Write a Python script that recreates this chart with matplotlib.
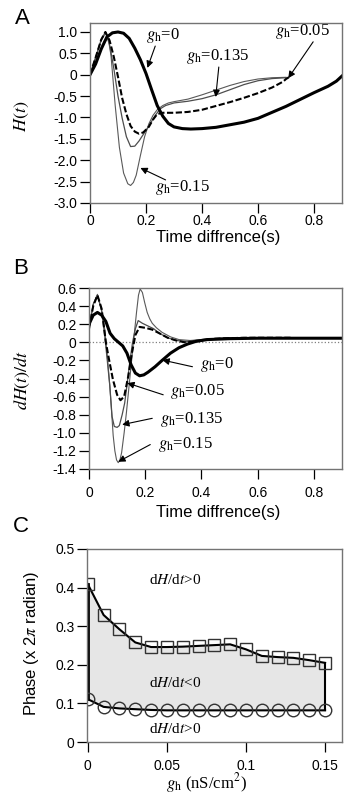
import numpy as np
import matplotlib
matplotlib.use("Agg")
import matplotlib.pyplot as plt
from matplotlib.ticker import FixedLocator, FixedFormatter

plt.rcParams['font.family'] = ['Liberation Sans', 'DejaVu Sans']
plt.rcParams['mathtext.fontset'] = 'stix'
plt.rcParams['axes.unicode_minus'] = False

# panel A: H(t) for each gh
tA_0 = [0, 0.02, 0.04, 0.06, 0.08, 0.10, 0.12, 0.14, 0.16, 0.18, 0.20, 0.22, 0.24, 0.26, 0.28, 0.30,
        0.33, 0.36, 0.40, 0.45, 0.50, 0.55, 0.60, 0.65, 0.70, 0.75, 0.80, 0.85, 0.88, 0.90]
hA_0 = [0, 0.25, 0.6, 0.88, 0.98, 1.0, 0.97, 0.85, 0.62, 0.35, 0.03, -0.35, -0.72, -0.97, -1.14, -1.22,
        -1.26, -1.27, -1.26, -1.23, -1.17, -1.11, -1.02, -0.88, -0.74, -0.58, -0.42, -0.27, -0.15, -0.03]

tA_05 = [0, 0.02, 0.04, 0.055, 0.07, 0.085, 0.10, 0.115, 0.13, 0.145, 0.16, 0.175, 0.19, 0.21, 0.225,
         0.24, 0.26, 0.30, 0.35, 0.40, 0.45, 0.50, 0.55, 0.60, 0.65, 0.69, 0.70, 0.71]
hA_05 = [0, 0.4, 0.82, 1.0, 0.8, 0.42, -0.05, -0.55, -0.92, -1.2, -1.33, -1.38, -1.35, -1.22, -1.05,
         -0.92, -0.89, -0.89, -0.87, -0.82, -0.73, -0.64, -0.54, -0.43, -0.3, -0.16, -0.1, -0.06]

tA_135 = [0, 0.02, 0.04, 0.055, 0.07, 0.085, 0.10, 0.115, 0.13, 0.145, 0.16, 0.175, 0.19, 0.21, 0.23,
          0.25, 0.27, 0.30, 0.35, 0.40, 0.45, 0.50, 0.55, 0.60, 0.65, 0.70]
hA_135 = [0, 0.4, 0.82, 1.0, 0.7, 0.15, -0.5, -1.02, -1.45, -1.68, -1.67, -1.55, -1.4, -1.2, -0.98,
          -0.8, -0.72, -0.66, -0.62, -0.56, -0.47, -0.35, -0.23, -0.14, -0.09, -0.07]

tA_15 = [0, 0.02, 0.04, 0.055, 0.065, 0.075, 0.09, 0.105, 0.12, 0.135, 0.145, 0.155, 0.165, 0.18, 0.195,
         0.21, 0.225, 0.24, 0.26, 0.28, 0.30, 0.35, 0.40, 0.45, 0.50, 0.55, 0.60, 0.65, 0.70]
hA_15 = [0, 0.4, 0.8, 0.97, 0.85, 0.45, -0.72, -1.7, -2.3, -2.55, -2.59, -2.52, -2.35, -1.89, -1.45,
         -1.15, -0.95, -0.82, -0.72, -0.66, -0.63, -0.57, -0.47, -0.36, -0.25, -0.16, -0.1, -0.07, -0.06]

# panel B: dH/dt
tB_0 = [0, 0.015, 0.03, 0.045, 0.06, 0.075, 0.09, 0.105, 0.12, 0.135, 0.15, 0.165, 0.18, 0.195, 0.21,
        0.235, 0.26, 0.29, 0.32, 0.35, 0.38, 0.42, 0.5, 0.6, 0.7, 0.8, 0.9]
dB_0 = [0.2, 0.3, 0.33, 0.3, 0.23, 0.1, 0.04, 0.0, -0.04, -0.12, -0.25, -0.34, -0.37, -0.36, -0.33,
        -0.27, -0.2, -0.12, -0.06, -0.02, 0.01, 0.03, 0.04, 0.045, 0.045, 0.045, 0.045]

tB_05 = [0, 0.015, 0.03, 0.045, 0.06, 0.07, 0.085, 0.1, 0.112, 0.125, 0.14, 0.152, 0.165, 0.18, 0.2,
         0.225, 0.25, 0.28, 0.31, 0.34, 0.38, 0.45, 0.55, 0.65, 0.72]
dB_05 = [0.15, 0.4, 0.52, 0.37, 0.0, -0.17, -0.41, -0.58, -0.64, -0.6, -0.37, -0.13, 0.08, 0.17, 0.16,
         0.14, 0.1, 0.05, 0.02, 0.0, 0.01, 0.04, 0.05, 0.05, 0.05]

tB_135 = [0, 0.015, 0.03, 0.045, 0.056, 0.065, 0.074, 0.082, 0.09, 0.1, 0.108, 0.118, 0.127, 0.136, 0.145,
          0.155, 0.165, 0.175, 0.19, 0.21, 0.23, 0.25, 0.28, 0.31, 0.35, 0.4, 0.5, 0.6, 0.72]
dB_135 = [0.15, 0.42, 0.52, 0.35, 0.07, -0.2, -0.48, -0.82, -0.93, -0.94, -0.92, -0.8, -0.67, -0.45, -0.22,
          0.0, 0.15, 0.24, 0.21, 0.18, 0.15, 0.1, 0.05, 0.02, 0.01, 0.03, 0.05, 0.05, 0.05]

tB_15 = [0, 0.015, 0.03, 0.045, 0.056, 0.065, 0.074, 0.08, 0.086, 0.092, 0.098, 0.104, 0.11, 0.116, 0.125,
         0.133, 0.142, 0.151, 0.16, 0.169, 0.176, 0.182, 0.19, 0.198, 0.207, 0.216, 0.225, 0.24, 0.26,
         0.29, 0.32, 0.36, 0.4, 0.5, 0.6, 0.72]
dB_15 = [0.15, 0.42, 0.53, 0.35, 0.14, -0.15, -0.48, -0.75, -1.03, -1.2, -1.3, -1.33, -1.3, -1.22, -1.0,
         -0.78, -0.5, -0.22, 0.06, 0.33, 0.52, 0.59, 0.55, 0.44, 0.33, 0.26, 0.21, 0.16, 0.11,
         0.06, 0.03, 0.02, 0.03, 0.05, 0.05, 0.05]

# panel C: phase boundaries vs gh
gh = [0, 0.01, 0.02, 0.03, 0.04, 0.05, 0.06, 0.07, 0.08, 0.09, 0.10, 0.11, 0.12, 0.13, 0.14, 0.15]
phase_up = [0.409, 0.329, 0.292, 0.258, 0.246, 0.246, 0.247, 0.249, 0.251, 0.253, 0.240, 0.223,
            0.220, 0.218, 0.212, 0.205]
phase_lo = [0.111, 0.091, 0.087, 0.085, 0.083, 0.082, 0.082, 0.082, 0.082, 0.082, 0.082, 0.082,
            0.082, 0.082, 0.082, 0.082]

yA_ticks = [1.0, 0.5, 0, -0.5, -1.0, -1.5, -2.0, -2.5, -3.0]
yA_labels = ['1.0', '0.5', '0', '-0.5', '-1.0', '-1.5', '-2.0', '-2.5', '-3.0']
yB_ticks = [0.6, 0.4, 0.2, 0, -0.2, -0.4, -0.6, -0.8, -1.0, -1.2, -1.4]
yB_labels = ['0.6', '0.4', '0.2', '0', '-0.2', '-0.4', '-0.6', '-0.8', '-1.0', '-1.2', '-1.4']
t_ticks = [0, 0.2, 0.4, 0.6, 0.8]
t_labels = ['0', '0.2', '0.4', '0.6', '0.8']
yC_ticks = [0, 0.1, 0.2, 0.3, 0.4, 0.5]
yC_labels = ['0', '0.1', '0.2', '0.3', '0.4', '0.5']
xC_ticks = [0, 0.05, 0.1, 0.15]
xC_labels = ['0', '0.05', '0.1', '0.15']

serif = ['Liberation Serif', 'DejaVu Serif']
W, H = 344, 796
fig = plt.figure(figsize=(W / 100, H / 100), dpi=100)


def box(l, t, r, b):
    # pixel box -> figure fraction
    return fig.add_axes([l / W, 1 - b / H, (r - l) / W, (b - t) / H])


def style(ax, xt, xl, yt, yl, xpad):
    for s in ax.spines.values():
        s.set_color('0.45')
        s.set_linewidth(1.0)
    ax.xaxis.set_major_locator(FixedLocator(xt))
    ax.xaxis.set_major_formatter(FixedFormatter(xl))
    ax.yaxis.set_major_locator(FixedLocator(yt))
    ax.yaxis.set_major_formatter(FixedFormatter(yl))
    ax.tick_params(direction='out', length=7, width=0.9, labelsize=10)
    ax.tick_params(axis='x', pad=xpad)
    ax.tick_params(axis='y', pad=2)


def arrow(ax, tail, head):
    ax.annotate('', xy=head, xytext=tail,
                arrowprops=dict(arrowstyle='-|>', color='k', lw=0.8, mutation_scale=10,
                                shrinkA=0, shrinkB=0))


def gh_text(ax, x, y, val):
    ax.text(x, y, r'$g_{\mathrm{h}}$=' + val, family=serif, fontsize=12, ha='center', va='center')


# A
axA = box(90, 23, 342, 203)
axA.plot(tA_15, hA_15, color='0.35', lw=0.8)
axA.plot(tA_135, hA_135, color='0.3', lw=0.9)
axA.plot(tA_05, hA_05, color='k', lw=1.5, ls=(0, (3, 1.2)))
axA.plot(tA_0, hA_0, color='k', lw=2.2)
axA.set_xlim(0, 0.9)
axA.set_ylim(-3.0, 1.21)
style(axA, t_ticks, t_labels, yA_ticks, yA_labels, 1)
axA.set_xlabel('Time diffrence(s)', fontsize=12)
axA.xaxis.set_label_coords(0.51, -0.15)
axA.set_ylabel(r'$H(t)$', fontsize=13)
axA.yaxis.set_label_coords(-0.235, 0.48)
gh_text(axA, 0.26, 0.92, '0')
arrow(axA, (0.233, 0.67), (0.205, 0.16))
gh_text(axA, 0.456, 0.415, '0.135')
arrow(axA, (0.46, 0.18), (0.449, -0.52))
gh_text(axA, 0.76, 1.0, '0.05')
arrow(axA, (0.797, 0.77), (0.708, -0.08))
gh_text(axA, 0.33, -2.63, '0.15')
arrow(axA, (0.27, -2.46), (0.18, -2.18))

# B
axB = box(89, 288, 342, 469)
axB.axhline(0, color='0.5', ls=':', lw=0.9)
axB.plot(tB_15, dB_15, color='0.35', lw=0.8)
axB.plot(tB_135, dB_135, color='0.3', lw=0.9)
axB.plot(tB_05, dB_05, color='k', lw=1.5, ls=(0, (3, 1.2)))
axB.plot(tB_0, dB_0, color='k', lw=2.2)
axB.set_xlim(0, 0.9)
axB.set_ylim(-1.4, 0.6)
style(axB, t_ticks, t_labels, yB_ticks, yB_labels, 5)
axB.set_xlabel('Time diffrence(s)', fontsize=12)
axB.xaxis.set_label_coords(0.51, -0.2)
axB.set_ylabel(r'$dH(t)/dt$', fontsize=13)
axB.yaxis.set_label_coords(-0.225, 0.49)
gh_text(axB, 0.454, -0.24, '0')
arrow(axB, (0.368, -0.27), (0.261, -0.196))
gh_text(axB, 0.386, -0.54, '0.05')
arrow(axB, (0.264, -0.58), (0.136, -0.45))
gh_text(axB, 0.364, -0.85, '0.135')
arrow(axB, (0.225, -0.84), (0.118, -0.91))
gh_text(axB, 0.343, -1.13, '0.15')
arrow(axB, (0.218, -1.13), (0.104, -1.32))

# C
axC = box(87, 549, 342, 742)
axC.fill_between(gh, phase_lo, phase_up, color='#e6e6e6', lw=0)
axC.plot([gh[0], gh[0]], [phase_lo[0], phase_up[0]], color='k', lw=2.0)
axC.plot([gh[-1], gh[-1]], [phase_lo[-1], phase_up[-1]], color='k', lw=1.5)
axC.plot(gh, phase_up, color='k', lw=1.5, marker='s', ms=8, mfc='none', mec='0.2', mew=1.0)
axC.plot(gh, phase_lo, color='k', lw=1.5, marker='o', ms=9, mfc='none', mec='0.2', mew=1.0)
axC.set_xlim(-0.0005, 0.1607)
axC.set_ylim(0, 0.5)
style(axC, xC_ticks, xC_labels, yC_ticks, yC_labels, 5)
axC.set_xlabel(r'$g_{\mathrm{h}}$ (nS/cm$^{2}$)', family=serif, fontsize=12)
axC.xaxis.set_label_coords(0.47, -0.15)
axC.set_ylabel(r'Phase (x 2$\pi$ radian)', fontsize=12)
axC.yaxis.set_label_coords(-0.18, 0.51)
for y, s in [(0.42, '>0'), (0.152, '<0'), (0.033, '>0')]:
    axC.text(0.0555, y, r'd$H$/d$t$' + s, family=serif, fontsize=11, ha='center', va='center')

# panel letters
for (x, y, s) in [(22, 18, 'A'), (21, 269, 'B'), (21, 527, 'C')]:
    fig.text(x / W, 1 - y / H, s, fontsize=16, ha='center', va='center')

fig.savefig('out.png', dpi=100)
